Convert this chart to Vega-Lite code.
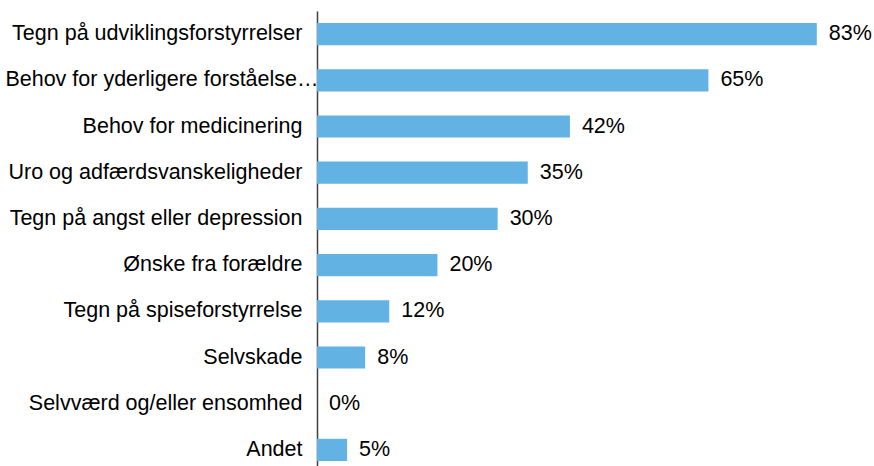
{
  "$schema": "https://vega.github.io/schema/vega-lite/v6.json",
  "autosize": "none",
  "width": 557,
  "height": 462,
  "padding": {"left": 317, "top": 11, "right": 0, "bottom": 0},
  "background": "white",
  "config": {"view": {"stroke": null}, "font": "Liberation Sans"},
  "data": {"values": [
    {"kategori": "Tegn på udviklingsforstyrrelser", "pct": 83, "label": "83%"},
    {"kategori": "Behov for yderligere forståelse…", "pct": 65, "label": "65%"},
    {"kategori": "Behov for medicinering", "pct": 42, "label": "42%"},
    {"kategori": "Uro og adfærdsvanskeligheder", "pct": 35, "label": "35%"},
    {"kategori": "Tegn på angst eller depression", "pct": 30, "label": "30%"},
    {"kategori": "Ønske fra forældre", "pct": 20, "label": "20%"},
    {"kategori": "Tegn på spiseforstyrrelse", "pct": 12, "label": "12%"},
    {"kategori": "Selvskade", "pct": 8, "label": "8%"},
    {"kategori": "Selvværd og/eller ensomhed", "pct": 0, "label": "0%"},
    {"kategori": "Andet", "pct": 5, "label": "5%"}
  ]},
  "encoding": {
    "y": {
      "field": "kategori", "type": "nominal", "sort": null, "title": null,
      "scale": {"paddingInner": 0.52, "paddingOuter": 0.26},
      "axis": {
        "ticks": false,
        "labelPadding": {"condition": {"test": "indexof(datum.value, '…') >= 0", "value": -1}, "value": 15},
        "labelFontSize": 21.5, "labelFont": "Liberation Sans", "labelFontWeight": "normal", "labelColor": "#000000", "labelLimit": 400, "domainColor": "#404040", "domainWidth": 1.5, "grid": false
      }
    },
    "x": {
      "field": "pct", "type": "quantitative", "title": null,
      "scale": {"domain": [0, 92.5], "nice": false},
      "axis": null
    }
  },
  "layer": [
    {"mark": {"type": "bar", "color": "#62B3E4"}},
    {"mark": {"type": "text", "align": "left", "baseline": "middle", "dx": 12, "fontSize": 21.5, "font": "Liberation Sans", "color": "#000000"},
     "encoding": {"text": {"field": "label", "type": "nominal"}}
    }
  ]
}
